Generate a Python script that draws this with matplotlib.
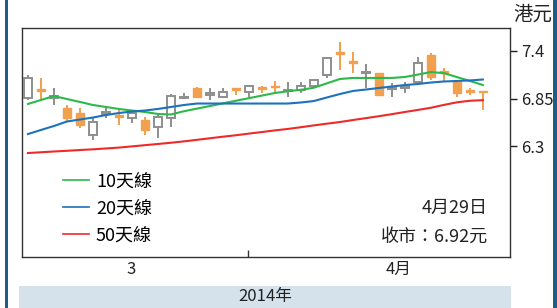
import matplotlib.pyplot as plt
from matplotlib.patches import Rectangle

plt.rcParams['font.family'] = ['Noto Sans CJK TC', 'DejaVu Sans']

# daily candles, late Feb to 29 Apr 2014 (HK$)
opens = [6.86, 6.96, 6.86, 6.74, 6.68, 6.43, 6.67, 6.66, 6.63, 6.60, 6.52, 6.63,
         6.86, 6.97, 6.89, 6.87, 6.97, 6.92, 6.98, 7.00, 6.94, 6.95, 7.00, 7.12,
         7.39, 7.28, 7.15, 7.145, 6.96, 6.97, 7.04, 7.35, 7.17, 7.04, 6.945, 6.93]
highs = [7.12, 7.09, 6.97, 6.78, 6.74, 6.63, 6.75, 6.74, 6.72, 6.64, 6.66, 6.90,
         6.91, 6.98, 6.97, 6.97, 6.975, 7.00, 6.99, 7.05, 7.04, 7.04, 7.08, 7.33,
         7.50, 7.39, 7.25, 7.15, 7.03, 7.04, 7.33, 7.38, 7.20, 7.06, 6.97, 6.93]
lows = [6.83, 6.83, 6.78, 6.58, 6.51, 6.37, 6.63, 6.54, 6.57, 6.43, 6.39, 6.52,
        6.855, 6.86, 6.83, 6.86, 6.89, 6.87, 6.91, 6.93, 6.87, 6.91, 6.98, 7.09,
        7.18, 7.15, 6.97, 6.88, 6.87, 6.91, 7.02, 7.06, 7.04, 6.87, 6.89, 6.72]
closes = [7.09, 6.94, 6.88, 6.63, 6.54, 6.58, 6.69, 6.64, 6.68, 6.49, 6.64, 6.88,
          6.87, 6.87, 6.91, 6.93, 6.95, 6.99, 6.96, 6.98, 6.95, 7.00, 7.06, 7.32,
          7.37, 7.26, 7.16, 6.89, 6.97, 6.99, 7.26, 7.10, 7.15, 6.91, 6.93, 6.92]

ma10 = [6.787, 6.833, 6.879, 6.844, 6.810, 6.775, 6.752, 6.729, 6.711, 6.694, 6.671, 6.665,
        6.703, 6.733, 6.763, 6.794, 6.824, 6.854, 6.884, 6.914, 6.934, 6.951, 6.975, 7.026,
        7.076, 7.088, 7.088, 7.088, 7.088, 7.099, 7.127, 7.156, 7.144, 7.098, 7.053, 7.006]
ma20 = [6.439, 6.486, 6.532, 6.584, 6.607, 6.630, 6.659, 6.682, 6.700, 6.711, 6.729, 6.752,
        6.775, 6.792, 6.792, 6.792, 6.792, 6.792, 6.792, 6.792, 6.792, 6.804, 6.821, 6.862,
        6.902, 6.937, 6.954, 6.972, 6.989, 7.006, 7.018, 7.035, 7.047, 7.053, 7.059, 7.070]
ma50 = [6.219, 6.228, 6.237, 6.245, 6.254, 6.262, 6.272, 6.282, 6.296, 6.310, 6.324, 6.338,
        6.354, 6.372, 6.390, 6.408, 6.425, 6.444, 6.462, 6.481, 6.498, 6.518, 6.539, 6.559,
        6.578, 6.601, 6.623, 6.645, 6.669, 6.694, 6.718, 6.743, 6.776, 6.806, 6.824, 6.831]

yticks = [6.3, 6.85, 7.4]
ytick_labels = ['6.3', '6.85', '7.4']
ma_labels = ['10天線', '20天線', '50天線']

up_col = '#8e8e8e'
down_col = '#f0a04e'

fig = plt.figure(figsize=(5.57, 3.08), dpi=100)
ax = fig.add_axes([0.0395, 0.1656, 0.876, 0.7435])

# candles
for i in range(len(opens)):
    o, h, l, c = opens[i], highs[i], lows[i], closes[i]
    col = up_col if c >= o else down_col
    ax.plot([i, i], [l, h], color=col, lw=1.4, zorder=2, solid_capstyle='butt')
    bottom = min(o, c)
    height = max(abs(c - o), 0.012)
    if c >= o:
        ax.add_patch(Rectangle((i - 0.3, bottom), 0.6, height, facecolor='white',
                               edgecolor=up_col, lw=1.4, zorder=3))
    else:
        ax.add_patch(Rectangle((i - 0.3, bottom), 0.6, height, facecolor=down_col,
                               edgecolor=down_col, lw=1.0, zorder=3))

x = range(len(ma10))
ax.plot(x, ma10, color='#2db84a', lw=1.5, zorder=4, label=ma_labels[0])
ax.plot(x, ma20, color='#1c72bd', lw=1.5, zorder=4, label=ma_labels[1])
ax.plot(x, ma50, color='#ee2a2a', lw=1.5, zorder=4, label=ma_labels[2])

ax.set_xlim(-0.46, 37.08)
ax.set_ylim(5.016, 7.666)

ax.yaxis.tick_right()
ax.set_yticks(yticks)
ax.set_yticklabels(ytick_labels, fontsize=12, color='#222222')
ax.tick_params(axis='y', length=5, width=1, color='#222222', pad=3)
ax.set_xticks([16.9])
ax.set_xticklabels([])
ax.tick_params(axis='x', direction='in', length=5, width=1, color='#333333')
for s in ax.spines.values():
    s.set_color('#333333')
    s.set_linewidth(1.0)

leg = ax.legend(loc='upper left', bbox_to_anchor=(0.07, 0.40), frameon=False,
                fontsize=13, handlelength=1.4, handletextpad=0.4, labelspacing=0.5,
                borderaxespad=0)
for line in leg.get_lines():
    line.set_linewidth(1.2)

ax.text(0.955, 0.215, '4月29日', transform=ax.transAxes, ha='right', va='center',
        fontsize=13, color='#222222')
ax.text(0.955, 0.09, '收市：6.92元', transform=ax.transAxes, ha='right', va='center',
        fontsize=13, color='#222222')

# month labels
ax.text(7.9, -0.055, '3', transform=ax.get_xaxis_transform(), ha='center', va='center',
        fontsize=12, color='#222222')
ax.text(28.5, -0.055, '4月', transform=ax.get_xaxis_transform(), ha='center', va='center',
        fontsize=12, color='#222222')

# unit label
fig.text(0.957, 0.955, '港元', ha='center', va='center', fontsize=14, color='#222222')

# year band
fig.patches.append(Rectangle((19 / 557, 0), 492 / 557, 22 / 308, transform=fig.transFigure,
                             facecolor='#d5e2ec', edgecolor='none', zorder=0))
fig.text(265 / 557, 11 / 308, '2014年', ha='center', va='center', fontsize=12, color='#222222')

# outer side borders
fig.patches.append(Rectangle((5 / 557, 0), 3 / 557, 1, transform=fig.transFigure,
                             facecolor='#1f5d86', edgecolor='none'))
fig.patches.append(Rectangle((553 / 557, 0), 4 / 557, 1, transform=fig.transFigure,
                             facecolor='#1f5d86', edgecolor='none'))

fig.savefig('out.png', dpi=100)
